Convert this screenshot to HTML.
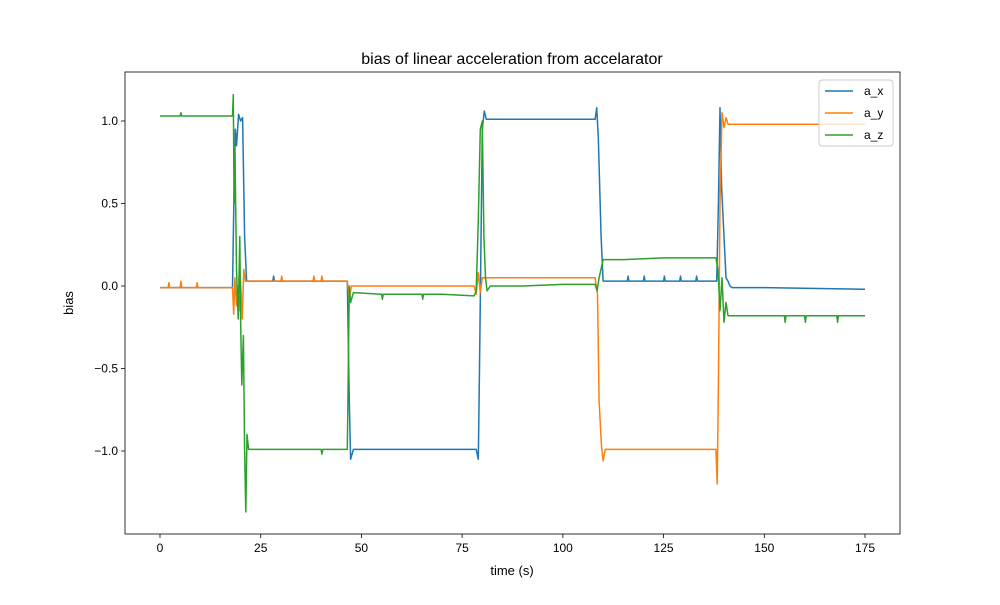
<!DOCTYPE html>
<html><head><meta charset="utf-8"><style>
body{margin:0;background:#fff;}
svg{font-family:"Liberation Sans","DejaVu Sans",sans-serif;}
</style></head><body>
<svg id="chart" width="1000" height="600" xmlns="http://www.w3.org/2000/svg">
<rect width="1000" height="600" fill="#fff"/>
<text x="512" y="64" text-anchor="middle" font-size="16">bias of linear acceleration from accelarator</text>
<g id="plot"></g>
<text x="512" y="575" text-anchor="middle" font-size="13">time (s)</text>
<text transform="translate(73,303) rotate(-90)" text-anchor="middle" font-size="13">bias</text>
</svg>
<script>
const xTicks=[0,25,50,75,100,125,150,175];
const yTicks=[1.0,0.5,0.0,-0.5,-1.0];
const yTickLabels=["1.0","0.5","0.0","\u22120.5","\u22121.0"];
const seriesNames=["a_x","a_y","a_z"];
const axT=[0,10,18,18.4,18.7,19,19.5,20,20.5,21,21.5,28,28.2,28.4,46,46.5,47,47.3,48,60,78.5,79,79.3,80,80.5,81,90,108,108.4,108.8,109.5,110,115,116,116.2,116.4,120,120.2,120.4,125,125.2,125.4,129,129.2,129.4,133,133.2,133.4,138.2,138.6,139,139.4,140,140.5,141,141.5,142,150,175];
const axV=[-0.01,-0.01,-0.01,0.6,0.95,0.85,1.04,1.0,1.02,0.3,0.03,0.03,0.06,0.03,0.03,0.03,-0.7,-1.05,-0.99,-0.99,-0.99,-1.05,-0.5,0.95,1.06,1.01,1.01,1.01,1.08,0.9,0.3,0.03,0.03,0.03,0.06,0.03,0.03,0.06,0.03,0.03,0.06,0.03,0.03,0.06,0.03,0.03,0.06,0.03,0.03,0.5,1.08,0.6,0.3,0.05,0.03,0.0,-0.01,-0.01,-0.02];
const ayT=[0,2,2.2,2.4,5,5.2,5.4,9,9.2,9.4,15,18,18.3,18.6,19,19.3,19.6,20,20.4,20.8,21.2,30,30.2,30.4,38,38.2,38.4,40,40.2,40.4,46.5,47,47.5,48,60,78,78.5,79,79.5,80,80.5,90,108,108.6,109,109.6,110,110.5,111,120,138,138.3,138.6,139,139.5,140,140.5,141,142,150,175];
const ayV=[-0.01,-0.01,0.02,-0.01,-0.01,0.03,-0.01,-0.01,0.02,-0.01,-0.01,-0.01,-0.17,0.05,-0.12,0.0,-0.15,0.03,-0.2,0.1,0.03,0.03,0.06,0.03,0.03,0.06,0.03,0.03,0.06,0.03,0.03,-0.08,0.0,0.0,0.0,0.0,-0.05,0.08,-0.04,0.05,0.05,0.05,0.05,-0.05,-0.7,-0.97,-1.06,-0.99,-0.99,-0.99,-0.99,-1.2,-0.6,0.5,1.05,0.96,1.02,0.98,0.98,0.98,0.98];
const azT=[0,5,5.2,5.4,18,18.2,18.4,18.6,19,19.4,19.8,20,20.3,20.7,21,21.3,21.6,22,30,40,40.2,40.4,46.5,46.8,47,47.3,48,55,55.2,55.4,60,65,65.2,65.4,70,78,78.5,79,79.5,80,80.4,80.8,81.2,82,90,100,108,108.5,109,110,115,125,138,138.5,139,139.5,140,140.5,141,142,155,155.2,155.4,160,160.2,160.4,168,168.2,168.4,175];
const azV=[1.03,1.03,1.05,1.03,1.03,1.16,0.5,0.85,0.1,-0.2,0.3,-0.2,-0.6,-0.3,-0.99,-1.37,-0.9,-0.99,-0.99,-0.99,-1.02,-0.99,-0.99,-0.4,0.0,-0.1,-0.04,-0.05,-0.08,-0.05,-0.05,-0.05,-0.08,-0.05,-0.05,-0.06,-0.03,0.4,0.95,1.0,0.3,0.05,-0.03,0.0,0.0,0.01,0.01,-0.03,0.05,0.16,0.16,0.17,0.17,0.1,-0.15,0.05,-0.22,-0.1,-0.18,-0.18,-0.18,-0.22,-0.18,-0.18,-0.22,-0.18,-0.18,-0.22,-0.18,-0.18];
const colors=["#1f77b4","#ff7f0e","#2ca02c"];
const L=125,R=900,T=72,B=534;
function sx(v){return 160+v*(705/175);}
function sy(v){return 286-v*165;}
const NS="http://www.w3.org/2000/svg";
const g=document.getElementById('plot');
function mk(tag,attrs,parent){const e=document.createElementNS(NS,tag);for(const k in attrs)e.setAttribute(k,attrs[k]);(parent||g).appendChild(e);return e;}
const clip=mk('clipPath',{id:'cp'});mk('rect',{x:L,y:T,width:R-L,height:B-T},clip);
const data=[[axT,axV],[ayT,ayV],[azT,azV]];
data.forEach((d,i)=>{
 const p=mk('polyline',{points:d[0].map((t,j)=>sx(t).toFixed(1)+','+sy(d[1][j]).toFixed(1)).join(' '),fill:'none',stroke:colors[i],'stroke-width':1.5,'clip-path':'url(#cp)','stroke-linejoin':'round'});
 
 
});
const fr=mk('rect',{x:L,y:T,width:R-L,height:B-T,fill:'none',stroke:'#000','stroke-width':0.8});


xTicks.forEach(t=>{
 const x=sx(t);
 mk('line',{x1:x,x2:x,y1:B,y2:B+4,stroke:'#000','stroke-width':0.8});
 const tx=mk('text',{x:x,y:B+18,'text-anchor':'middle','font-size':12});tx.textContent=t;
 
 
});
yTicks.forEach((t,i)=>{
 const y=sy(t);
 mk('line',{x1:L-4,x2:L,y1:y,y2:y,stroke:'#000','stroke-width':0.8});
 const tx=mk('text',{x:L-7,y:y+4,'text-anchor':'end','font-size':12});tx.textContent=yTickLabels[i];
 
 
});
const lg=mk('g',{});


mk('rect',{x:819,y:80,width:74,height:66,rx:3,fill:'#fff','fill-opacity':0.8,stroke:'#ccc'},lg);
seriesNames.forEach((n,i)=>{
 const y=91+i*22;
 const e=mk('g',{},lg);
 
 
 mk('line',{x1:825,x2:853,y1:y,y2:y,stroke:colors[i],'stroke-width':1.5},e);
 const tx=mk('text',{x:864,y:y+4,'font-size':12},e);tx.textContent=n;
});
</script>
</body></html>
